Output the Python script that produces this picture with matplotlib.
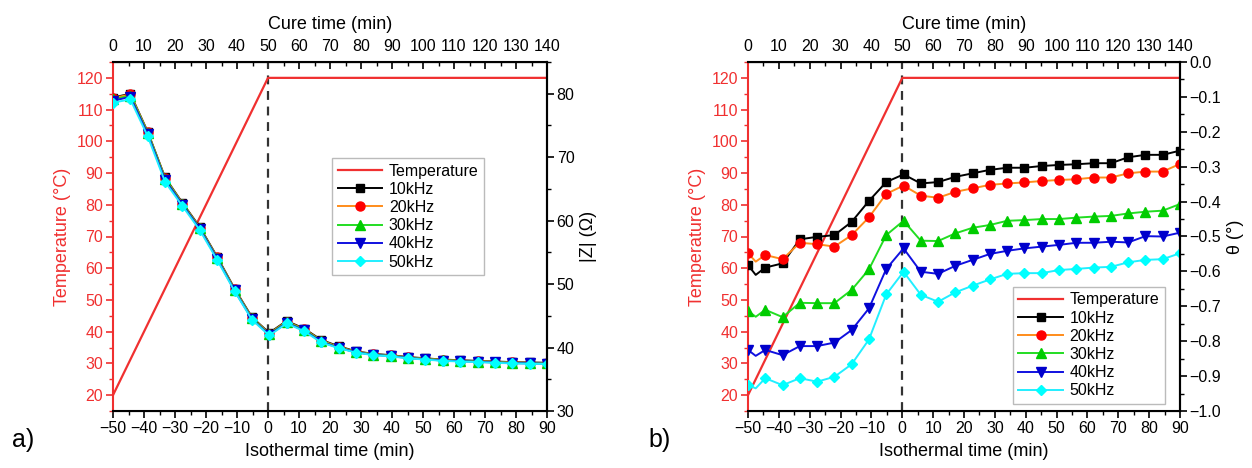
import matplotlib
matplotlib.use("Agg")
import matplotlib.pyplot as plt
from matplotlib.ticker import MultipleLocator
import numpy as np

plt.rcParams['font.family'] = ['Liberation Sans', 'DejaVu Sans']

# ---------------- data ----------------
# marker times (isothermal time, min)
t_markers = [-50, -44.4, -38.8, -33.2, -27.6, -22, -16.4, -10.8, -5.2, 0.4,
             6.0, 11.6, 17.2, 22.8, 28.4, 34, 39.6, 45.2, 50.8, 56.4,
             62, 67.6, 73.2, 78.8, 84.4, 90]

temp_time = [-50, 0, 90]
temp_vals = [20, 120, 120]

labels = ["10kHz", "20kHz", "30kHz", "40kHz", "50kHz"]

# panel a: |Z| (Ohm)
z_10 = [79.4, 80.0, 74.0, 66.8, 62.8, 59.0, 54.3, 49.3, 44.8, 42.3,
        44.2, 43.0, 41.2, 40.2, 39.4, 39.0, 38.8, 38.5, 38.3, 38.1,
        38.0, 37.9, 37.8, 37.7, 37.65, 37.6]
z_20 = [79.3, 79.9, 73.9, 66.7, 62.7, 58.9, 54.2, 49.2, 44.7, 42.2,
        44.1, 42.9, 41.1, 40.1, 39.35, 38.95, 38.75, 38.45, 38.25, 38.05,
        37.95, 37.85, 37.75, 37.65, 37.6, 37.55]
z_30 = [79.1, 79.7, 73.8, 66.6, 62.6, 58.8, 54.1, 49.1, 44.6, 42.1,
        44.0, 42.8, 41.0, 40.0, 39.3, 38.9, 38.7, 38.4, 38.2, 38.0,
        37.9, 37.8, 37.7, 37.6, 37.55, 37.5]
z_40 = [78.9, 79.5, 73.6, 66.4, 62.5, 58.7, 54.0, 49.0, 44.5, 42.0,
        43.9, 42.7, 40.9, 39.95, 39.25, 38.85, 38.65, 38.35, 38.15, 37.95,
        37.85, 37.75, 37.65, 37.55, 37.5, 37.45]
z_50 = [78.6, 79.1, 73.3, 66.1, 62.3, 58.5, 53.8, 48.9, 44.4, 41.9,
        43.8, 42.6, 40.8, 39.9, 39.2, 38.8, 38.6, 38.3, 38.1, 37.9,
        37.8, 37.7, 37.6, 37.5, 37.45, 37.4]
z_series = [z_10, z_20, z_30, z_40, z_50]

# panel b: theta (deg); first marker, then an extra line point at -47.5, then remaining markers
t_b = [-50, -47.5] + t_markers[1:]
th_10 = [-0.582, -0.610, -0.589, -0.577, -0.508, -0.501, -0.496, -0.458, -0.398, -0.344,
         -0.322, -0.348, -0.344, -0.329, -0.319, -0.309, -0.303, -0.303, -0.298, -0.295,
         -0.293, -0.290, -0.290, -0.273, -0.266, -0.266, -0.254]
th_20 = [-0.548, -0.572, -0.553, -0.565, -0.518, -0.522, -0.529, -0.496, -0.445, -0.378,
         -0.354, -0.383, -0.389, -0.372, -0.362, -0.352, -0.348, -0.345, -0.341, -0.338,
         -0.336, -0.331, -0.331, -0.319, -0.314, -0.314, -0.292]
th_30 = [-0.713, -0.730, -0.710, -0.731, -0.690, -0.691, -0.691, -0.653, -0.594, -0.496,
         -0.455, -0.512, -0.513, -0.491, -0.475, -0.467, -0.455, -0.453, -0.450, -0.450,
         -0.446, -0.443, -0.441, -0.434, -0.429, -0.426, -0.407]
th_40 = [-0.825, -0.842, -0.825, -0.840, -0.814, -0.814, -0.804, -0.768, -0.706, -0.593,
         -0.534, -0.601, -0.607, -0.584, -0.567, -0.550, -0.541, -0.534, -0.529, -0.524,
         -0.518, -0.518, -0.515, -0.517, -0.499, -0.500, -0.489]
th_50 = [-0.926, -0.935, -0.906, -0.926, -0.906, -0.916, -0.902, -0.866, -0.795, -0.666,
         -0.601, -0.667, -0.687, -0.660, -0.641, -0.623, -0.607, -0.605, -0.605, -0.596,
         -0.593, -0.589, -0.587, -0.574, -0.567, -0.565, -0.548]
th_series = [th_10, th_20, th_30, th_40, th_50]

# ---------------- styles ----------------
line_colors = ["black", "#FF8C1A", "#22DD22", "#1010E0", "#22EEFF"]
mk_colors = ["black", "#FF0000", "#00CC00", "#0000CC", "#00FFFF"]
markers = ["s", "o", "^", "v", "D"]
msizes = [5.5, 6.5, 6.5, 6.5, 5.0]
RED = "#F03030"
TICK_FS = 11.5
LAB_FS = 13
LEG_FS = 11.5

fig = plt.figure(figsize=(12.52, 4.68), dpi=100)
ax_a = fig.add_axes([113/1252, 1-411/468, 434/1252, 349/468])
ax_b = fig.add_axes([748/1252, 1-411/468, 432/1252, 349/468])


def style_axes(ax, ax2):
    ax.set_xlim(-50, 90)
    ax.set_ylim(15, 125)
    ax.xaxis.set_major_locator(MultipleLocator(10))
    ax.xaxis.set_minor_locator(MultipleLocator(5))
    ax.yaxis.set_major_locator(MultipleLocator(10))
    ax.yaxis.set_minor_locator(MultipleLocator(5))
    ax.tick_params(axis='x', which='both', direction='out', labelsize=TICK_FS, top=False, pad=2)
    ax.tick_params(axis='x', which='major', length=5, width=1.2)
    ax.tick_params(axis='x', which='minor', length=3, width=1.0)
    ax.tick_params(axis='y', which='both', direction='out', colors=RED, labelsize=TICK_FS, pad=2)
    ax.tick_params(axis='y', which='major', length=5, width=1.2)
    ax.tick_params(axis='y', which='minor', length=3, width=1.0)
    ax.spines['left'].set_color(RED)
    ax.spines['left'].set_linewidth(1.5)
    ax.spines['bottom'].set_linewidth(1.5)
    ax.spines['top'].set_linewidth(1.5)
    ax.spines['right'].set_linewidth(1.5)
    ax.set_xlabel("Isothermal time (min)", fontsize=LAB_FS, labelpad=5)
    ax.set_ylabel("Temperature (°C)", fontsize=LAB_FS, color=RED, labelpad=4)
    sec = ax.secondary_xaxis('top', functions=(lambda x: x + 50, lambda x: x - 50))
    sec.xaxis.set_major_locator(MultipleLocator(10))
    sec.xaxis.set_minor_locator(MultipleLocator(5))
    sec.tick_params(axis='x', which='both', direction='in', labelsize=TICK_FS, pad=6)
    sec.tick_params(axis='x', which='major', length=5, width=1.2)
    sec.tick_params(axis='x', which='minor', length=3, width=1.0)
    sec.set_xlabel("Cure time (min)", fontsize=LAB_FS, labelpad=7)
    ax2.tick_params(axis='y', which='both', direction='out', labelsize=TICK_FS, pad=2)
    ax2.tick_params(axis='y', which='major', length=5, width=1.2)
    ax2.tick_params(axis='y', which='minor', length=3, width=1.0)
    ax2.spines['left'].set_visible(False)
    ax2.spines['right'].set_linewidth(1.5)
    ax.axvline(0, color="#333333", linestyle=(0, (4, 3)), lw=1.6, zorder=1)


# ---------------- panel a ----------------
ax_a2 = ax_a.twinx()
style_axes(ax_a, ax_a2)
ax_a2.set_ylim(30, 85)
ax_a2.yaxis.set_major_locator(MultipleLocator(10))
ax_a2.yaxis.set_minor_locator(MultipleLocator(5))
ax_a2.set_ylabel("|Z| (Ω)", fontsize=LAB_FS)

handles = []
h, = ax_a.plot(temp_time, temp_vals, color=RED, lw=1.6, label="Temperature", zorder=2)
handles.append(h)
for vals, lc, mc, mk, ms, lab in zip(z_series, line_colors, mk_colors, markers, msizes, labels):
    h, = ax_a2.plot(t_markers, vals, color=lc, lw=1.4, marker=mk, markersize=ms,
                    markerfacecolor=mc, markeredgecolor=mc, label=lab)
    handles.append(h)
ax_a2.set_zorder(ax_a.get_zorder() + 1)
ax_a2.patch.set_visible(False)
leg = ax_a2.legend(handles=handles, loc='upper left', bbox_to_anchor=(0.505, 0.725),
                   fontsize=LEG_FS, frameon=True, fancybox=False, edgecolor="#BBBBBB",
                   framealpha=1, handlelength=2.8, handletextpad=0.4, borderpad=0.35,
                   labelspacing=0.2, borderaxespad=0)
leg.get_frame().set_linewidth(1.0)

# ---------------- panel b ----------------
ax_b2 = ax_b.twinx()
style_axes(ax_b, ax_b2)
ax_b2.set_ylim(-1.0, 0.0)
ax_b2.yaxis.set_major_locator(MultipleLocator(0.1))
ax_b2.yaxis.set_minor_locator(MultipleLocator(0.05))
ax_b2.yaxis.set_major_formatter(matplotlib.ticker.FuncFormatter(
    lambda v, p: ("%.1f" % v).replace("-", "\u2212") if abs(v) > 1e-9 else "0.0"))
ax_b2.set_ylabel("θ (°)", fontsize=LAB_FS)

handles = []
h, = ax_b.plot(temp_time, temp_vals, color=RED, lw=1.6, label="Temperature", zorder=2)
handles.append(h)
mk_idx = [0] + list(range(2, len(t_b)))
for vals, lc, mc, mk, ms, lab in zip(th_series, line_colors, mk_colors, markers, msizes, labels):
    h, = ax_b2.plot(t_b, vals, color=lc, lw=1.4, marker=mk, markersize=ms, markevery=mk_idx,
                    markerfacecolor=mc, markeredgecolor=mc, label=lab)
    handles.append(h)
ax_b2.set_zorder(ax_b.get_zorder() + 1)
ax_b2.patch.set_visible(False)
leg = ax_b2.legend(handles=handles, loc='lower left', bbox_to_anchor=(0.613, 0.02),
                   fontsize=LEG_FS, frameon=True, fancybox=False, edgecolor="#BBBBBB",
                   framealpha=1, handlelength=2.8, handletextpad=0.4, borderpad=0.35,
                   labelspacing=0.2, borderaxespad=0)
leg.get_frame().set_linewidth(1.0)

fig.text(12/1252, 1-440/468, "a)", fontsize=18, va='center', ha='left')
fig.text(648/1252, 1-440/468, "b)", fontsize=18, va='center', ha='left')

fig.savefig("out.png", dpi=100)
